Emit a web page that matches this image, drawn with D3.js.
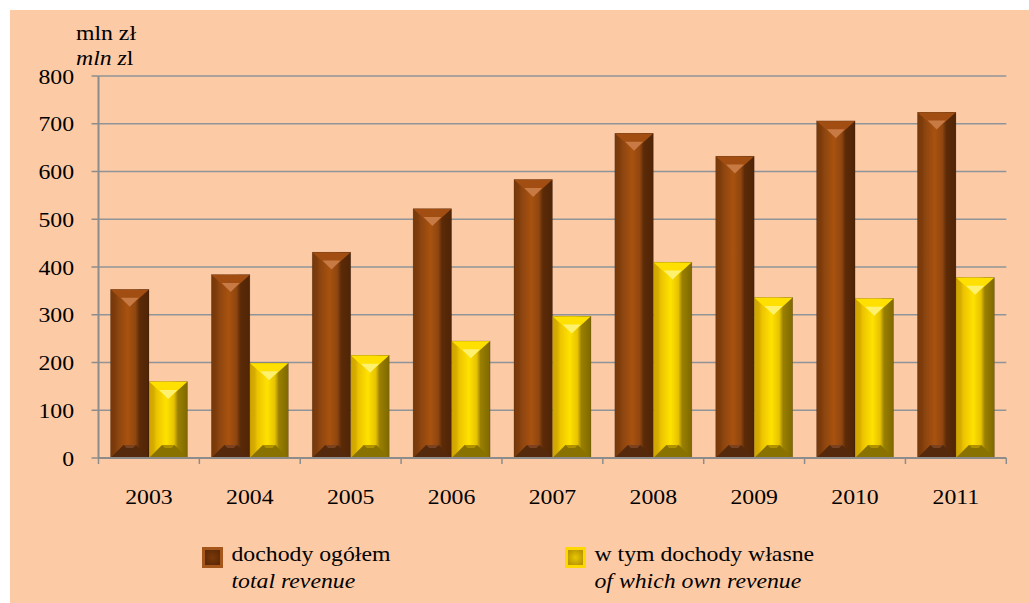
<!DOCTYPE html>
<html>
<head>
<meta charset="utf-8">
<script src="https://cdn.jsdelivr.net/npm/d3@7"></script>
<style>
  body { margin: 0; background: #fff; }
  svg { display: block; }
  text { font-family: "Liberation Serif", "Times New Roman", serif; }
</style>
</head>
<body>
<svg width="1029" height="603"></svg>
<script>
var years = ["2003", "2004", "2005", "2006", "2007", "2008", "2009", "2010", "2011"];
var total = [353, 384, 431, 522, 583, 680, 632, 706, 724];
var own = [160, 199, 215, 245, 297, 410, 336, 334, 378];
var yTicks = [0, 100, 200, 300, 400, 500, 600, 700, 800];
var seriesNames = ["total", "own"];
var legendPl = ["dochody ogółem", "w tym dochody własne"];
var legendEn = ["total revenue", "of which own revenue"];

var svg = d3.select("svg"),
    plotLeft = 98.5, plotRight = 1006.3, plotTop = 76, plotBottom = 458,
    stretch = 1.08;

// peach background with white margin on top/left
svg.append("rect")
  .attr("x", 10).attr("y", 10)
  .attr("width", 1019).attr("height", 593)
  .attr("fill", "#fdcaa6");

var x0 = d3.scaleBand().domain(years).range([plotLeft, plotRight]);
var x1 = d3.scaleBand().domain(seriesNames).range([12, 89]);
var y = d3.scaleLinear().domain([0, 800]).range([plotBottom, plotTop]);

var data = years.map(function(d, i) { return {year: d, total: total[i], own: own[i]}; });

// gradients
var defs = svg.append("defs");
function hgrad(id, stops) {
  var g = defs.append("linearGradient").attr("id", id)
    .attr("x1", "0%").attr("x2", "100%").attr("y1", "0%").attr("y2", "0%");
  stops.forEach(function(s) {
    g.append("stop").attr("offset", s[0]).attr("stop-color", s[1]);
  });
}
hgrad("gBrown", [[0, "#76380a"], [0.12, "#7e3c0b"], [0.2, "#8c4510"], [0.45, "#a9520f"],
                 [0.65, "#8f4610"], [0.75, "#5c2b08"], [1, "#4f2406"]]);
hgrad("gYellow", [[0, "#cfa300"], [0.12, "#d6ac00"], [0.2, "#ecc400"], [0.45, "#ffe200"],
                  [0.65, "#e6c200"], [0.75, "#9a8000"], [1, "#7f6800"]]);
function rgrad(id, inner, outer) {
  var g = defs.append("radialGradient").attr("id", id);
  g.append("stop").attr("offset", 0).attr("stop-color", inner);
  g.append("stop").attr("offset", 1).attr("stop-color", outer);
}
rgrad("lBrown", "#7a3808", "#5c2a06");
rgrad("lYellow", "#e8c800", "#b89400");

var style = {
  total: {body: "url(#gBrown)", top: "#a24e12", hi: "#c87a45", bot: "#55290b", botHi: "#7a4220"},
  own: {body: "url(#gYellow)", top: "#ffe000", hi: "#fff170", bot: "#8a7200", botHi: "#b09200"}
};

// grid lines
svg.append("g").selectAll("line")
  .data(yTicks.slice(1))
  .enter().append("line")
    .attr("x1", plotLeft).attr("x2", plotRight)
    .attr("y1", function(d) { return y(d); })
    .attr("y2", function(d) { return y(d); })
    .attr("stroke", "#8f9498").attr("stroke-width", 1.5);

// bars
var groups = svg.append("g").selectAll("g")
  .data(data)
  .enter().append("g")
    .attr("transform", function(d) { return "translate(" + x0(d.year) + ",0)"; });

groups.selectAll("g")
  .data(function(d) { return seriesNames.map(function(k) { return {key: k, value: d[k]}; }); })
  .enter().append("g")
  .each(function(d) {
    var g = d3.select(this),
        s = style[d.key],
        xa = x1(d.key), w = x1.bandwidth(),
        ya = y(d.value), yb = y(0),
        xm = xa + w / 2,
        t = w * 0.45, b = 13;
    g.append("rect")
      .attr("x", xa).attr("y", ya).attr("width", w).attr("height", yb - ya)
      .attr("fill", s.body);
    // top bevel
    g.append("path")
      .attr("d", "M" + xa + "," + ya + "L" + (xa + w) + "," + ya + "L" + xm + "," + (ya + t) + "Z")
      .attr("fill", s.top);
    g.append("path")
      .attr("d", "M" + (xm - 9) + "," + (ya + t - 9) + "L" + (xm + 9) + "," + (ya + t - 9) +
                 "L" + xm + "," + (ya + t) + "Z")
      .attr("fill", s.hi);
    // bottom bevel
    g.append("path")
      .attr("d", "M" + xa + "," + yb + "L" + (xa + w) + "," + yb + "L" + (xa + w - b) + "," + (yb - b) +
                 "L" + (xa + b) + "," + (yb - b) + "Z")
      .attr("fill", s.bot);
    g.append("path")
      .attr("d", "M" + (xa + b) + "," + (yb - b) + "L" + (xa + w - b) + "," + (yb - b) +
                 "L" + (xa + w - b - 3) + "," + (yb - b + 3) + "L" + (xa + b + 3) + "," + (yb - b + 3) + "Z")
      .attr("fill", s.botHi);
    g.append("rect")
      .attr("x", xa).attr("y", ya).attr("width", w).attr("height", yb - ya)
      .attr("fill", "none").attr("stroke", "rgba(0,0,0,0.25)").attr("stroke-width", 0.6);
  });

// axes
var axisColor = "#8c8c8c";
svg.append("line")
  .attr("x1", plotLeft).attr("x2", plotLeft).attr("y1", plotTop).attr("y2", plotBottom)
  .attr("stroke", axisColor).attr("stroke-width", 2);
svg.append("line")
  .attr("x1", plotLeft).attr("x2", plotRight).attr("y1", plotBottom).attr("y2", plotBottom)
  .attr("stroke", axisColor).attr("stroke-width", 2);
svg.append("g").selectAll("line")
  .data(yTicks)
  .enter().append("line")
    .attr("x1", plotLeft - 7).attr("x2", plotLeft)
    .attr("y1", function(d) { return y(d); })
    .attr("y2", function(d) { return y(d); })
    .attr("stroke", axisColor).attr("stroke-width", 1.5);
svg.append("g").selectAll("line")
  .data(years.concat(["end"]))
  .enter().append("line")
    .attr("x1", function(d) { return d === "end" ? plotRight : x0(d); })
    .attr("x2", function(d) { return d === "end" ? plotRight : x0(d); })
    .attr("y1", plotBottom).attr("y2", plotBottom + 6)
    .attr("stroke", axisColor).attr("stroke-width", 1.5);

function label(x, yy, txt, anchor, italic) {
  return svg.append("text")
    .attr("transform", "translate(" + x + "," + yy + ") scale(" + stretch + ",1)")
    .attr("text-anchor", anchor || "start")
    .attr("font-family", "Liberation Serif")
    .attr("font-size", 22)
    .attr("font-style", italic ? "italic" : "normal")
    .attr("fill", "#000")
    .text(txt);
}

yTicks.forEach(function(d) { label(74, y(d) + 7.5, d, "end"); });
years.forEach(function(d) { label(x0(d) + x0.bandwidth() / 2, 504, d, "middle"); });

// unit title
label(76, 40, "mln zł");
var t2 = label(76, 65, "");
t2.append("tspan").attr("font-style", "italic").text("mln z");
t2.append("tspan").text("l");

// legend
var legX = [202, 565];
seriesNames.forEach(function(k, i) {
  svg.append("rect")
    .attr("x", legX[i] + 1.5).attr("y", 548.5).attr("width", 18).attr("height", 18)
    .attr("fill", i === 0 ? "url(#lBrown)" : "url(#lYellow)")
    .attr("stroke", i === 0 ? "#a5561a" : "#ffd800").attr("stroke-width", 3);
  label(legX[i] + 29.5, 561, legendPl[i]);
  label(legX[i] + 29.5, 588, legendEn[i], "start", true);
});
</script>
</body>
</html>
